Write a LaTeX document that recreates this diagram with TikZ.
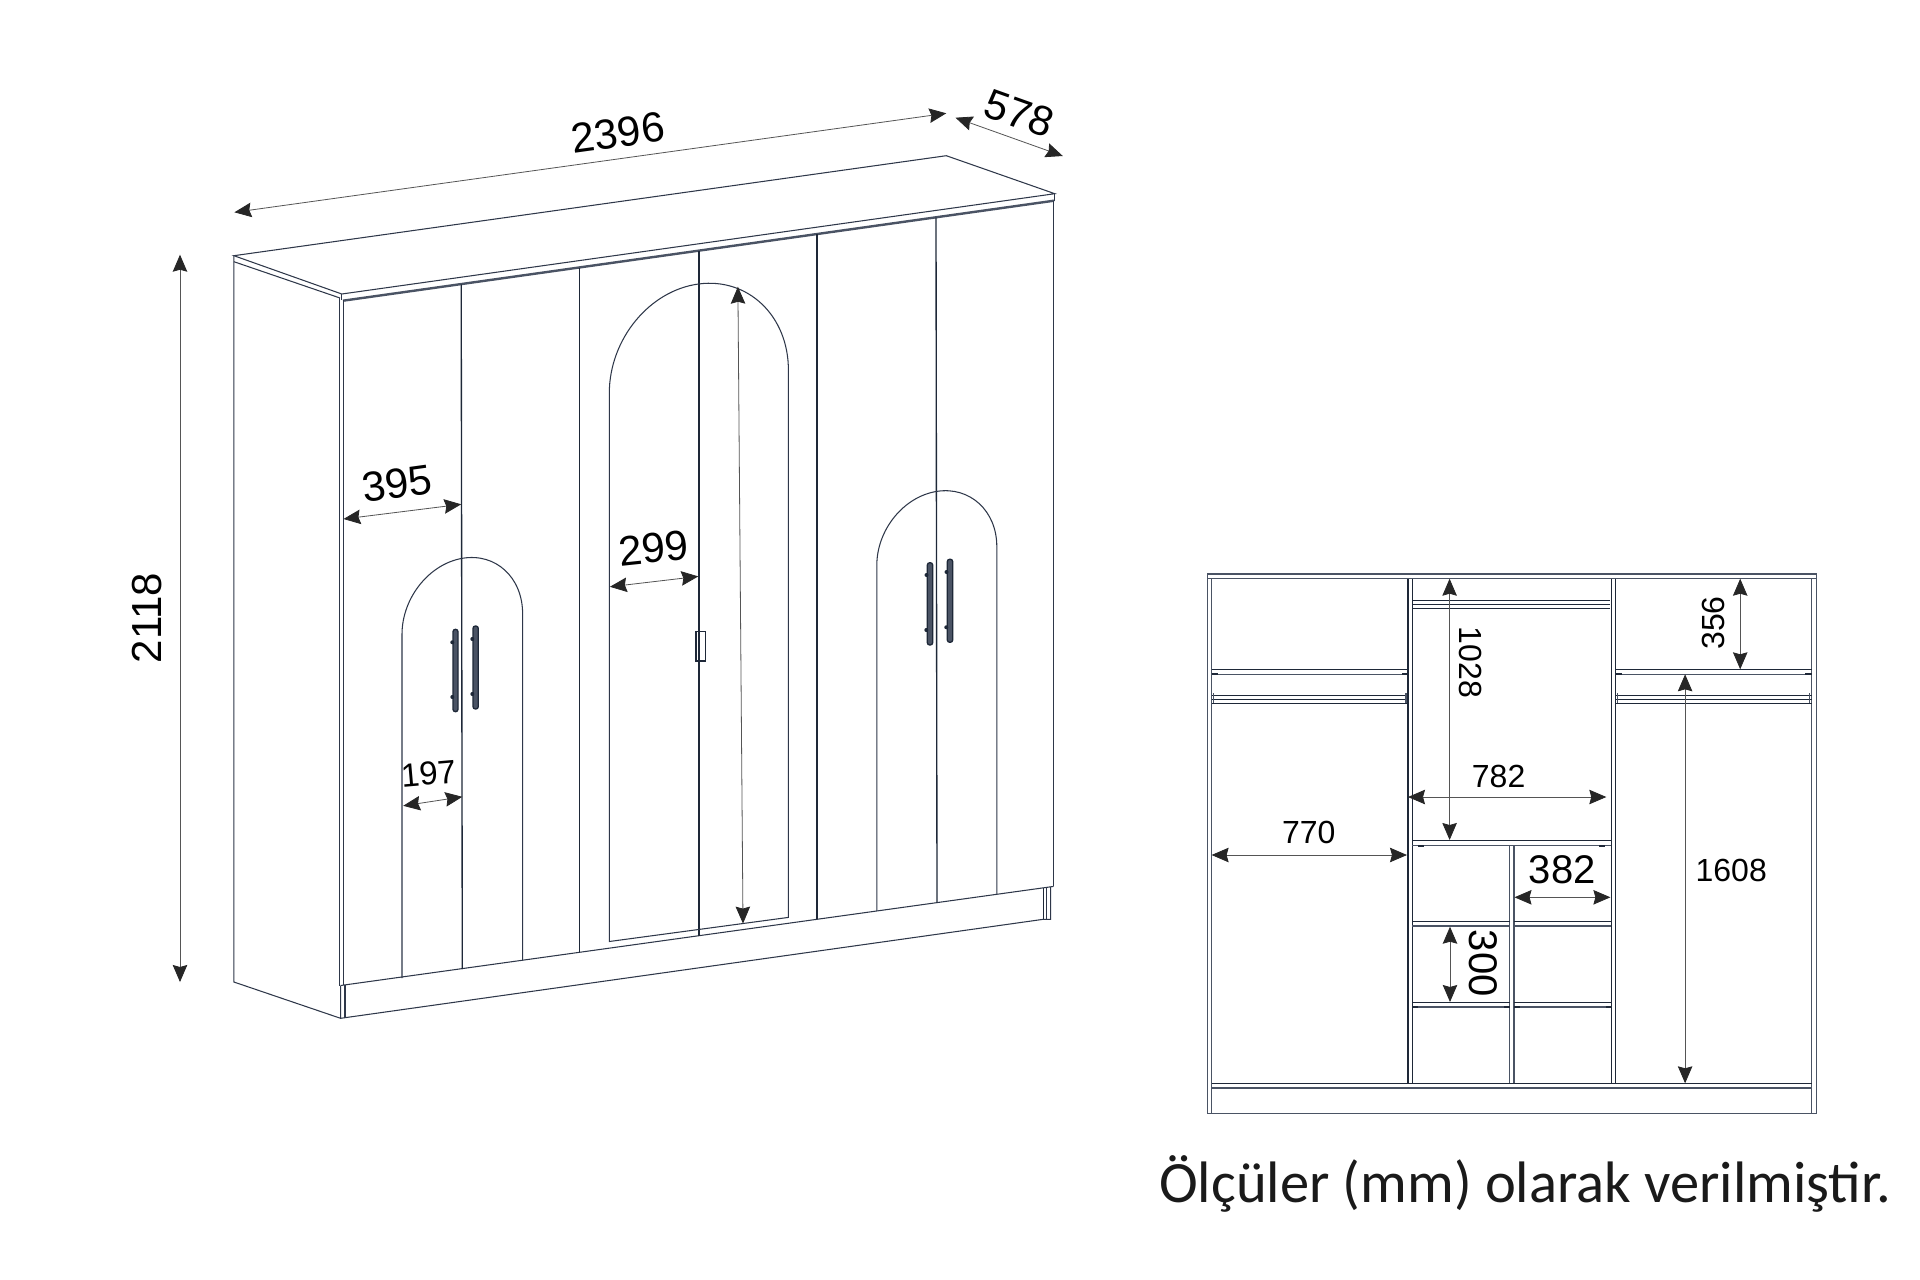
\documentclass[tikz,border=0pt]{standalone}
\usepackage{fontspec}
\usetikzlibrary{arrows.meta}
\setmainfont{Liberation Sans}
\newfontfamily\capfont{Carlito}
\definecolor{ink}{HTML}{1E2838}
\definecolor{edge}{HTML}{2E3749}
\definecolor{soft}{HTML}{4A5364}
\definecolor{head}{HTML}{262626}
\definecolor{dimgrey}{HTML}{555555}
\definecolor{captext}{HTML}{1A1A1A}
\tikzset{
  ln/.style={draw=edge,line width=1.05pt},
  door/.style={draw=ink,line width=1.35pt},
  band/.style={draw=soft,line width=2.4pt},
  pn/.style={draw=soft,line width=1.15pt},
  pnd/.style={draw=ink,line width=1.3pt},
  rail/.style={draw=ink,line width=1.6pt},
  tick/.style={draw=ink,line width=1.8pt},
  dimln/.style={draw=dimgrey,line width=.8pt,
    {Stealth[length=17pt,width=14.5pt,inset=2pt,color=head]}-{Stealth[length=17pt,width=14.5pt,inset=2pt,color=head]}},
  handle/.style={draw=ink,line width=1.3pt,fill=soft,rounded corners=2.4pt},
  peg/.style={fill=ink,draw=none,circle,inner sep=0pt,minimum size=4pt},
  big/.style={inner sep=0pt,font=\fontsize{42}{48}\selectfont},
  mid/.style={inner sep=0pt,font=\fontsize{40}{46}\selectfont},
  small/.style={inner sep=0pt,font=\fontsize{32}{38}\selectfont},
}
\begin{document}
\begin{tikzpicture}[x=1pt,y=-1pt]
\fill[white] (0,0) rectangle (1920,1280);
\useasboundingbox (0,0) rectangle (1920,1280);

% ---------- cabinet outline
\draw[ln] (233.9,255.7) -- (946.3,155.7) -- (1054.8,193.7) -- (341.8,294) -- cycle;
\draw[ln] (233.9,255.7) -- (233.9,982) -- (340.6,1018.3);
\draw[ln] (233.9,261.7) -- (340,298);
\draw[ln] (341.8,294) -- (341.8,300);
\draw[ln] (1054.8,193.7) -- (1054.8,200.7);
\draw[band] (343,300.7) -- (1054,200.7);
\draw[ln] (339.8,298) -- (339.8,985.5);
\draw[ln] (343.4,300) -- (343.4,985);
\draw[ln] (1053.6,200.7) -- (1053.6,886.4);
% plinth
\draw[ln] (340.6,985.5) -- (1053.6,886.4);
\draw[ln] (340.6,985.5) -- (340.6,1018.3) -- (1043.3,919.3) -- (1050.7,919.3) -- (1050.7,887);
\draw[ln] (345,985) -- (345,1017.6);
\draw[door] (1043.3,888) -- (1043.3,919.3);
\draw[ln] (1046.2,888) -- (1046.2,919.3);

% ---------- door lines
\draw[door] (461.2,284.3) -- (462.3,969);
\draw[door] (579.4,268) -- (579.4,952);
\draw[door] (699,251) -- (699,935.6);
\draw[door] (817,234) -- (817,919);
\draw[door] (936,217.7) -- (937,902);

% ---------- arches
\draw[ln] (402,978) -- (402,634.3) .. controls (402,598.05) and (429,564.03) .. (462.3,558.31)
   .. controls (495.6,552.59) and (522.6,577.35) .. (522.6,613.6) -- (522.6,960.4);
\draw[ln] (609.3,941.5) -- (609.3,393.3) .. controls (609.3,339.3) and (649.39,290.38) .. (698.85,283.95)
   .. controls (748.31,277.52) and (788.4,316) .. (788.4,370) -- (788.4,917.4) -- cycle;
\draw[ln] (876.8,910.8) -- (876.8,565.4) .. controls (876.8,529.74) and (903.66,496.61) .. (936.8,491.39)
   .. controls (969.94,486.17) and (996.8,510.84) .. (996.8,546.5) -- (996.8,894);

% ---------- handles
\draw[handle] (453,629.3) rectangle (458,711.7);
\draw[handle] (473,626) rectangle (478.3,709);
\draw[handle] (927.3,562.7) rectangle (932.7,645);
\draw[handle] (947.3,559.2) rectangle (952.7,642.3);
\node[peg] (p1) at (452.3,642.3) {};
\node[peg] (p2) at (452.3,697) {};
\node[peg] (p3) at (472.3,639) {};
\node[peg] (p4) at (472.3,694) {};
\node[peg] (p5) at (926.5,575) {};
\node[peg] (p6) at (926.3,630) {};
\node[peg] (p7) at (946.5,572) {};
\node[peg] (p8) at (946.3,627.3) {};
% latch
\draw[door] (696,631.5) rectangle (705.3,661);
\draw[line width=2pt,draw=ink] (696,631) -- (696,662);

% ---------- dimensions, cabinet
\coordinate (a1) at (234.4,212.3); \coordinate (a2) at (946.3,113.3);
\draw[dimln] (a1) -- (a2);
\node[big,rotate=7.9] (t2396) at (618,132.7) {2396};
\coordinate (b1) at (955.5,117.7); \coordinate (b2) at (1062.8,156);
\draw[dimln] (b1) -- (b2);
\node[big,rotate=-19.6] (t578) at (1019.8,113.3) {578};
\coordinate (c1) at (180,254.7); \coordinate (c2) at (180,982);
\draw[dimln] (c1) -- (c2);
\node[big,rotate=90] (t2118) at (147,618) {2118};
\coordinate (d1) at (343.5,519); \coordinate (d2) at (461.2,504.3);
\draw[dimln] (d1) -- (d2);
\node[big,rotate=7.9] (t395) at (397,483.3) {395};
\coordinate (e1) at (609.9,586.8); \coordinate (e2) at (698.3,576.4);
\draw[dimln] (e1) -- (e2);
\node[big,rotate=6] (t299) at (653.5,548.2) {299};
\coordinate (f1) at (403.2,805.8); \coordinate (f2) at (462.3,796.8);
\draw[dimln] (f1) -- (f2);
\node[inner sep=0pt,rotate=5,font=\fontsize{33}{38}\selectfont] (t197) at (428.5,773.8) {197};
\coordinate (g1) at (737.9,286.7); \coordinate (g2) at (743,923.6);
\draw[dimln] (g1) -- (g2);

% ---------- interior panel
\draw[pn] (1207.1,574) rectangle (1816.5,1113.3);
\draw[pn] (1207.1,578.7) -- (1816.5,578.7);
\draw[pn] (1211.6,578.7) -- (1211.6,1113.3);
\draw[pn] (1811.6,578.7) -- (1811.6,1113.3);
\draw[pnd] (1211.6,1083.3) -- (1811.6,1083.3);
\draw[pn] (1211.6,1088) -- (1811.6,1088);
\foreach \px in {1408,1412.4,1611.2,1615.7} \draw[pnd] (\px,578.7) -- (\px,1083.3);
\foreach \px in {1509.6,1514} \draw[pn] (\px,845.3) -- (\px,1083.3);
% shelves and rails
\foreach \xa/\xb in {1211.6/1408,1615.7/1811.6} {
  \draw[pnd] (\xa,669.3) -- (\xb,669.3);
  \draw[pn] (\xa,674.3) -- (\xb,674.3);
  \draw[rail] (\xa,695.3) -- (\xb,695.3);
  \draw[pnd] (\xa,699.2) -- (\xb,699.2);
  \draw[pnd] (\xa,703.3) -- (\xb,703.3);
}
\draw[rail] (1412.4,600.3) -- (1609.6,600.3);
\draw[pnd] (1412.4,604.2) -- (1609.6,604.2);
\draw[pnd] (1412.4,608.3) -- (1609.6,608.3);
\draw[pnd] (1412.4,840.7) -- (1611.2,840.7);
\draw[pn] (1412.4,845.3) -- (1611.2,845.3);
\foreach \xa/\xb in {1412.4/1509.6,1514/1611.2} {
  \draw[pnd] (\xa,921.3) -- (\xb,921.3);
  \draw[pn] (\xa,926) -- (\xb,926);
  \draw[pnd] (\xa,1002.3) -- (\xb,1002.3);
  \draw[pn] (\xa,1007) -- (\xb,1007);
}
% little marks
\foreach \xa/\xb in {1211.6/1218,1402/1408,1615.7/1622,1805/1811.6} \draw[tick] (\xa,674.3) -- (\xb,674.3);
\foreach \xa/\xb in {1418/1423.5,1599/1605} \draw[tick] (\xa,845.6) -- (\xb,845.6);
\foreach \xa/\xb in {1412.4/1418,1504/1509.6,1514/1519.5,1605.5/1611.2} \draw[tick] (\xa,1007) -- (\xb,1007);
\foreach \px in {1213.5,1406,1617.6,1809.6} \draw[pn] (\px,693) -- (\px,703.3);

\coordinate (h1) at (1449.6,578.7); \coordinate (h2) at (1449.6,840);
\draw[dimln] (h1) -- (h2);
\node[small,rotate=-90] (t1028) at (1470.4,662.3) {1028};
\coordinate (i1) at (1740.2,578.7); \coordinate (i2) at (1740.2,669.3);
\draw[dimln] (i1) -- (i2);
\node[small,rotate=90] (t356) at (1713,623) {356};
\coordinate (j1) at (1408,797); \coordinate (j2) at (1606.3,797);
\draw[dimln] (j1) -- (j2);
\node[small] (t782) at (1498.6,776) {782};
\coordinate (k1) at (1211.6,855); \coordinate (k2) at (1407,855);
\draw[dimln] (k1) -- (k2);
\node[small] (t770) at (1308.8,832.3) {770};
\coordinate (l1) at (1514.5,897.3); \coordinate (l2) at (1610.4,897.3);
\draw[dimln] (l1) -- (l2);
\node[mid] (t382) at (1562.2,870) {382};
\coordinate (m1) at (1450,926.7); \coordinate (m2) at (1450,1002);
\draw[dimln] (m1) -- (m2);
\node[mid,rotate=-90] (t300) at (1483,963.3) {300};
\coordinate (n1) at (1685.1,674.3); \coordinate (n2) at (1685.1,1083.3);
\draw[dimln] (n1) -- (n2);
\node[small] (t1608) at (1731.2,870) {1608};

% ---------- caption
\node[anchor=base,inner sep=0pt,text=captext,font=\capfont\fontsize{58.5}{70}\selectfont] (cap) at (1525,1202) {Ölçüler (mm) olarak verilmiştir.};
\end{tikzpicture}
\end{document}
